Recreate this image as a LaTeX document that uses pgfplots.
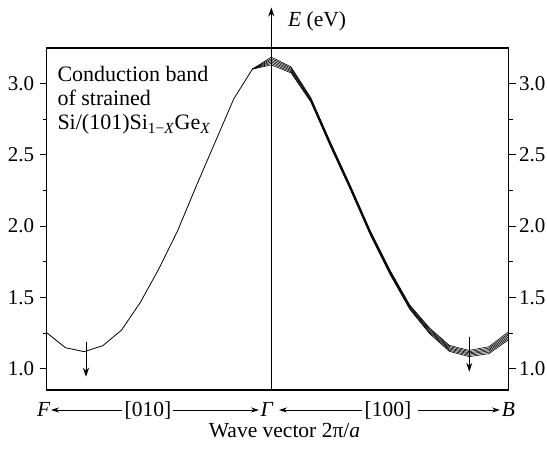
\documentclass[border=0pt]{standalone}
\usepackage{fontspec}
\setmainfont{Liberation Serif}
\usepackage{pgfplots}
\usepackage{pgfplotstable}
\pgfplotsset{compat=1.18}
\usetikzlibrary{arrows.meta}
\pgfplotstableread{
x      y0    y1    y2    y3    y4    y5
-18.9  3.102 3.102 3.102 3.102 3.102 3.102
0      3.186 3.175 3.164 3.153 3.142 3.131
19.8   3.117 3.109 3.100 3.092 3.083 3.075
39.6   2.900 2.894 2.888 2.882 2.876 2.870
59.4   2.585 2.579 2.573 2.567 2.561 2.555
79.2   2.283 2.277 2.271 2.265 2.259 2.253
99.0   1.968 1.962 1.956 1.950 1.944 1.938
118.7  1.691 1.685 1.679 1.673 1.667 1.661
138.5  1.446 1.440 1.434 1.428 1.422 1.416
158.3  1.285 1.277 1.269 1.261 1.253 1.245
178.1  1.163 1.155 1.146 1.138 1.129 1.121
197.9  1.128 1.119 1.110 1.102 1.093 1.084
217.7  1.154 1.144 1.134 1.125 1.115 1.105
237.4  1.259 1.248 1.237 1.225 1.214 1.203
}\bundle
\pgfplotstableread{
x       y
-224.6  1.252
-205.9  1.147
-187.2  1.119
-168.5  1.161
-149.8  1.270
-131.1  1.463
-112.4  1.701
-93.7   1.967
-75.0   2.282
-56.3   2.587
-37.6   2.892
-18.9   3.102
}\leftband
\newcommand{\fs}{\fontsize{21.5}{25}\selectfont}
\newcommand{\ft}{\fontsize{21}{25}\selectfont}
\begin{document}
\begin{tikzpicture}[font=\fs]
\pgfplotsset{common/.style={
  at={(46.7pt,58pt)}, anchor=south west, scale only axis,
  width=462pt, height=342pt,
  xmin=-224.6, xmax=237.4, ymin=0.85, ymax=3.25,
  xtick=\empty,
  ytick={1,1.5,2,2.5,3}, minor ytick={1.25,1.75,2.25,2.75},
  yticklabel style={font=\ft,
    /pgf/number format/fixed, /pgf/number format/fixed zerofill,
    /pgf/number format/precision=1, /pgf/number format/assume math mode=true},
  tick align=outside, major tick length=7pt, minor tick length=4pt,
  tick style={line width=1pt, black},
  axis line style={line width=1.3pt},
  clip=false}}
\begin{axis}[common, ytick pos=left, yticklabel style={xshift=-2pt}]
\addplot[black, line width=0.8pt] table[x=x, y=y] {\leftband};
\addplot[black, line width=0.6pt] table[x=x, y=y0] {\bundle};
\addplot[black, line width=0.6pt] table[x=x, y=y1] {\bundle};
\addplot[black, line width=0.6pt] table[x=x, y=y2] {\bundle};
\addplot[black, line width=0.6pt] table[x=x, y=y3] {\bundle};
\addplot[black, line width=0.6pt] table[x=x, y=y4] {\bundle};
\addplot[black, line width=0.6pt] table[x=x, y=y5] {\bundle};
\draw[line width=1.4pt, -{Stealth[length=9pt,width=6pt]}] (axis cs:0,0.85) -- (axis cs:0,3.535);
\draw[line width=0.9pt, -{Stealth[length=9pt,width=6pt]}] (axis cs:-185.3,1.189) -- (axis cs:-185.3,0.943);
\draw[line width=0.9pt, -{Stealth[length=9pt,width=6pt]}] (axis cs:198,1.224) -- (axis cs:198,0.978);
\end{axis}
\begin{axis}[common, axis x line=none, axis y line*=right, ytick pos=right, yticklabel pos=right]
\end{axis}
% annotation text
\node[anchor=base west, inner sep=0, font=\fontsize{22}{26}\selectfont] at (57.3pt,366.3pt) {Conduction band};
\node[anchor=base west, inner sep=0, font=\fontsize{22}{26}\selectfont] at (57.3pt,342pt) {of strained};
\node[anchor=base west, inner sep=0, font=\fontsize{22}{26}\selectfont] at (57.3pt,318pt) {Si/(101)Si\textsubscript{1−\textit{X}}Ge\textsubscript{\textit{X}}};
% E label
\node[anchor=base west, inner sep=0] at (288pt,421.3pt) {\textit{E} (eV)};
% bottom direction labels
\node[anchor=base west, inner sep=0] at (37pt,32pt) {\textit{F}};
\draw[line width=0.8pt, -{Stealth[length=8pt,width=5pt]}] (122pt,38pt) -- (51pt,38pt);
\node[anchor=base west, inner sep=0] at (124.5pt,32pt) {[010]};
\draw[line width=0.8pt, -{Stealth[length=8pt,width=5pt]}] (173pt,38pt) -- (259pt,38pt);
\node[anchor=base west, inner sep=0] at (260.5pt,32pt) {\textit{Γ}};
\draw[line width=0.8pt, -{Stealth[length=8pt,width=5pt]}] (362pt,38pt) -- (279pt,38pt);
\node[anchor=base west, inner sep=0] at (364.4pt,32pt) {[100]};
\draw[line width=0.8pt, -{Stealth[length=8pt,width=5pt]}] (418pt,38pt) -- (500pt,38pt);
\node[anchor=base west, inner sep=0] at (501.6pt,32pt) {\textit{B}};
\node[anchor=base, inner sep=0] at (284.5pt,10.5pt) {Wave vector 2π/\textit{a}};
\pgfresetboundingbox
\path[use as bounding box] (0,0) rectangle (547pt,448pt);
\end{tikzpicture}
\end{document}
